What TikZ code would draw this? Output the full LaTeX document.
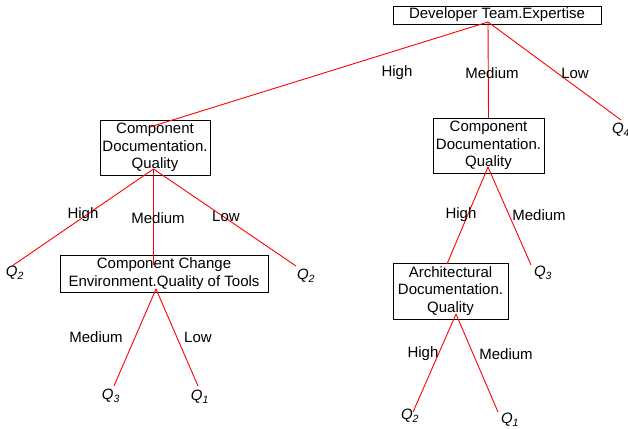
\documentclass[tikz,border=0pt]{standalone}
\usepackage{fontspec}
\setmainfont{Liberation Sans}
\begin{document}
\begin{tikzpicture}[x=1pt,y=-1pt,
  every node/.style={font=\fontsize{15}{17.5}\selectfont},
  attr/.style={draw=black,line width=0.8pt,align=center,inner sep=0pt,fill=none},
  branch/.style={draw=red,line width=0.9pt},
  val/.style={inner sep=0pt},
  leaf/.style={inner sep=0pt}]
\useasboundingbox (0,0) rectangle (628,428);

% attribute boxes
\node[attr,minimum width=208,minimum height=18] (root) at (497,15) {Developer Team.Expertise};
\node[attr,minimum width=110,minimum height=55] (cdqL) at (155,147.5) {Component\\Documentation.\\Quality};
\node[attr,minimum width=208,minimum height=37] (cce) at (164,273.5) {Component Change\\Environment.Quality of Tools};
\node[attr,minimum width=111,minimum height=55] (cdqR) at (488.5,145.5) {Component\\Documentation.\\Quality};
\node[attr,minimum width=115,minimum height=56] (adq) at (450.5,291) {Architectural\\Documentation.\\Quality};

% outcome leaves
\newcommand{\qv}[1]{\textit{Q}\textsubscript{\textit{#1}}}
\node[leaf] (q4)  at (621,130) {\qv{4}};
\node[leaf] (q2a) at (15,273)  {\qv{2}};
\node[leaf] (q2b) at (306,276) {\qv{2}};
\node[leaf] (q3a) at (111,396) {\qv{3}};
\node[leaf] (q1a) at (200,397) {\qv{1}};
\node[leaf] (q3b) at (543,273) {\qv{3}};
\node[leaf] (q2c) at (410,416) {\qv{2}};
\node[leaf] (q1b) at (510,420) {\qv{1}};

% branch hubs inside the boxes
\coordinate (rootOut) at (488,22);
\coordinate (cdqLIn)  at (150,127);
\coordinate (cdqLOut) at (153.5,169);
\coordinate (cdqRIn)  at (488.5,118);
\coordinate (cdqROut) at (488,167);
\coordinate (cceIn)   at (153.5,265);
\coordinate (cceOut)  at (156,289);
\coordinate (adqIn)   at (447,264);
\coordinate (adqOut)  at (456,314);

% leaf attachment points
\coordinate (q4In)  at (621,120);
\coordinate (q2aIn) at (12,266);
\coordinate (q2bIn) at (296,266);
\coordinate (q3aIn) at (114,386);
\coordinate (q1aIn) at (198,386);
\coordinate (q3bIn) at (531,265);
\coordinate (q2cIn) at (413,412);
\coordinate (q1bIn) at (498,412);

% branches
\draw[branch] (rootOut) -- (cdqLIn);
\draw[branch] (rootOut) -- (cdqRIn);
\draw[branch] (rootOut) -- (q4In);
\draw[branch] (cdqLOut) -- (q2aIn);
\draw[branch] (cdqLOut) -- (cceIn);
\draw[branch] (cdqLOut) -- (q2bIn);
\draw[branch] (cceOut) -- (q3aIn);
\draw[branch] (cceOut) -- (q1aIn);
\draw[branch] (cdqROut) -- (adqIn);
\draw[branch] (cdqROut) -- (q3bIn);
\draw[branch] (adqOut) -- (q2cIn);
\draw[branch] (adqOut) -- (q1bIn);

% branch values
\node[val] (v1) at (397,73) {High};
\node[val] (v2) at (492,73) {Medium};
\node[val] (v3) at (575,73) {Low};
\node[val] (v4) at (83,215) {High};
\node[val] (v5) at (158,218) {Medium};
\node[val] (v6) at (226,216) {Low};
\node[val] (v7) at (96,337) {Medium};
\node[val] (v8) at (198,337) {Low};
\node[val] (v9) at (461,215) {High};
\node[val] (v10) at (539,215) {Medium};
\node[val] (v11) at (423,354) {High};
\node[val] (v12) at (506,354) {Medium};
\end{tikzpicture}
\end{document}
